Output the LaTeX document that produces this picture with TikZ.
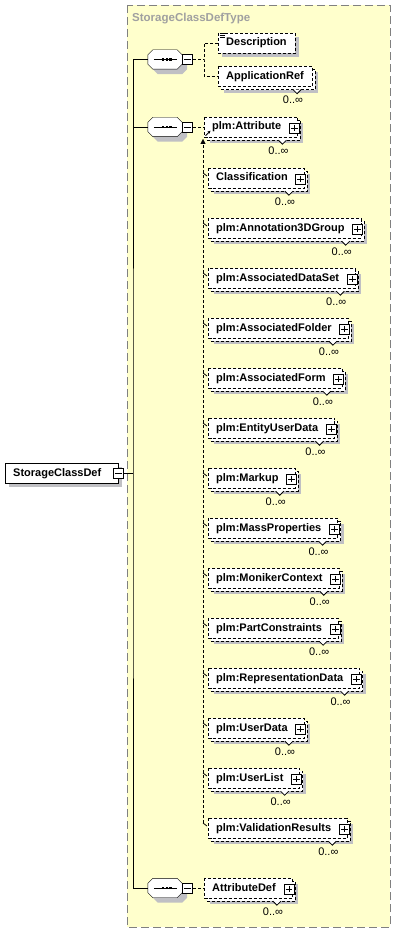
\documentclass[tikz,border=0pt]{standalone}
\usepackage{fontspec}
\setmainfont{Liberation Sans}
\usetikzlibrary{calc,arrows.meta}
\pgfdeclarelayer{yel}\pgfdeclarelayer{shd}\pgfdeclarelayer{bck}\pgfdeclarelayer{frt}
\pgfsetlayers{yel,shd,bck,frt,main}
\definecolor{paleyellow}{RGB}{255,255,204}
\definecolor{shadowgray}{RGB}{192,192,196}
\definecolor{titlegray}{RGB}{160,160,160}
\definecolor{framegray}{RGB}{128,128,128}
\newcommand\gap[1]{\rule{#1}{0pt}}
\tikzset{
  dsh/.style={dash pattern=on 3pt off 2pt},
  elem/.style={anchor=west, font=\bfseries\fontsize{11}{13}\selectfont, inner xsep=8pt, inner ysep=0pt, minimum height=20pt, text height=8pt, text depth=2pt},
  mult/.style={font=\fontsize{11}{13}\selectfont, inner sep=0pt},
  seqnode/.style={minimum width=34pt, minimum height=19pt, inner sep=0pt},
  tbox/.style={minimum size=10pt, inner sep=0pt, draw, fill=white, line width=0.9pt},
}
\newcommand\shadowbox[2]{\begin{pgfonlayer}{shd}\fill[shadowgray] ($(#1.north west)+(#2,#2)$) rectangle ($(#1.south east)+(#2,#2)$);\end{pgfonlayer}}
\newcommand\frontbox[2]{\begin{pgfonlayer}{frt}\filldraw[fill=white,#2] (#1.north west) rectangle (#1.south east);\end{pgfonlayer}}
\newcommand\backbox[1]{\begin{pgfonlayer}{bck}\filldraw[fill=white,dsh] ($(#1.north west)+(3,3)$) rectangle ($(#1.south east)+(3,3)$);\end{pgfonlayer}}
\newcommand\plusbox[1]{\node[tbox] (#1-p) at ($(#1.east)+(-3,1)$) {};
  \draw[line width=0.9pt] ($(#1-p.west)+(2,0)$) -- ($(#1-p.east)+(-2,0)$) ($(#1-p.north)+(0,2)$) -- ($(#1-p.south)+(0,-2)$);}
\newcommand\multi[1]{\draw[fill=white,line width=0.8pt] ($(#1.south east)+(-19,3)$) -- ++(4,4) -- ++(4,-4);
  \node[mult] (#1-m) at ($(#1.south east)+(-19,13.5)$) {0..∞};}
\newcommand\octpath[2]{($(#1.north west)+(5+#2,#2)$) -- ($(#1.north east)+(-5+#2,#2)$) -- ($(#1.north east)+(#2,5+#2)$) -- ($(#1.south east)+(#2,-5+#2)$) -- ($(#1.south east)+(-5+#2,#2)$) -- ($(#1.south west)+(5+#2,#2)$) -- ($(#1.south west)+(#2,-5+#2)$) -- ($(#1.north west)+(#2,5+#2)$) -- cycle}
\newcommand\seqdecor[1]{%
  \begin{pgfonlayer}{shd}\fill[shadowgray] \octpath{#1}{5};\end{pgfonlayer}
  \begin{pgfonlayer}{frt}\filldraw[fill=white] \octpath{#1}{0};\end{pgfonlayer}
  \draw[line width=0.8pt] ($(#1.west)+(6,0)$) -- ($(#1.east)+(-5,0)$);
  \fill ($(#1.center)+(-2.8,-1.1)$) rectangle ++(2.2,2.2);
  \fill ($(#1.center)+(0.8,-1.1)$) rectangle ++(2.2,2.2);
  \fill ($(#1.center)+(4.4,-1.1)$) rectangle ++(2.2,2.2);
  \node[tbox] (#1-x) at ($(#1.east)+(5.5,0)$) {};
  \draw[line width=0.9pt] ($(#1-x.west)+(2,0)$) -- ($(#1-x.east)+(-2,0)$);}
\newcommand\elemdecor[1]{\shadowbox{#1}{6}\backbox{#1}\frontbox{#1}{dsh}\plusbox{#1}\multi{#1}}
\begin{document}
\begin{tikzpicture}[x=1pt,y=-1pt,line width=1pt]
\useasboundingbox (0,0) rectangle (396,933);
\begin{pgfonlayer}{yel}
\filldraw[fill=paleyellow, draw=framegray, dash pattern=on 8pt off 4pt] (127,5) rectangle (390,927);
\end{pgfonlayer}
\node[anchor=west, font=\bfseries\fontsize{11.5}{13}\selectfont, text=titlegray, inner sep=0pt] (title) at (132,19) {StorageClassDefType};
% root
\node[elem] (root) at (5,473) {StorageClassDef\gap{9pt}};
\shadowbox{root}{4}\frontbox{root}{}
\node[tbox] (root-x) at (root.east) {};
\draw[line width=0.9pt] ($(root-x.west)+(2,0)$) -- ($(root-x.east)+(-2,0)$);
% sequences
\node[seqnode] (s1) at (165,59.5) {};
\node[seqnode] (s2) at (165,127) {};
\node[seqnode] (s3) at (165,888) {};
\seqdecor{s1}\seqdecor{s2}\seqdecor{s3}
\coordinate (trunk) at (133,473);
\draw (root-x.east) -- (trunk);
\draw (s1.west) -| (trunk) |- (s3.west);
\draw (s2.west) -- (s2.west -| trunk);
% group 1
\node[elem] (desc) at (218,43) {Description};
\shadowbox{desc}{4}\frontbox{desc}{dsh}
\draw[line width=0.7pt] ($(desc.north west)+(1.5,1)$) -- ++(5,0) ($(desc.north west)+(1.5,2.8)$) -- ++(5,0) ($(desc.north west)+(1.5,4.6)$) -- ++(5,0);
\node[elem] (appr) at (218,76.5) {ApplicationRef};
\shadowbox{appr}{6}\backbox{appr}\frontbox{appr}{dsh}\multi{appr}
\coordinate (b1) at (204,59.5);
\draw[dsh] (s1-x.east) -- (b1);
\draw[dsh] (desc.west) -| (b1) |- (appr.west);
% group 2
\node[elem] (attr) at (204,127) {plm:Attribute\gap{8pt}};
\elemdecor{attr}
\draw[dsh] (s2-x.east) -- (attr.west);
\draw[line width=0.8pt,-{Stealth[length=3pt,width=3pt]}] ($(attr.south west)+(1.5,-1.5)$) -- ++(5,-5);
\foreach \nm/\yy/\tx in {cl/178/Classification, an/228/plm:Annotation3DGroup, ads/278/plm:AssociatedDataSet, afo/328/plm:AssociatedFolder, afm/378/plm:AssociatedForm, eud/428/plm:EntityUserData, mk/478/plm:Markup, mp/528/plm:MassProperties, mc/578/plm:MonikerContext, pc/628/plm:PartConstraints, rd/678/plm:RepresentationData, ud/728/plm:UserData, ul/778/plm:UserList, vr/828/plm:ValidationResults}{
  \node[elem] (\nm) at (208,\yy) {\tx\gap{8pt}};
  \elemdecor{\nm}
  \draw[line width=0.8pt] ($(\nm.west)+(-5,-5)$) -- ($(\nm.west)+(-1,-2)$);
}
\coordinate (subtop) at (203,139);
\coordinate (subbot) at (203,823);
\draw[dsh,-{Triangle[length=5pt,width=5pt]}] (subbot) -- (subtop);
% group 3
\node[elem] (adef) at (204,888) {AttributeDef\gap{8pt}};
\elemdecor{adef}
\draw[dsh] (s3-x.east) -- (adef.west);
\end{tikzpicture}
\end{document}
